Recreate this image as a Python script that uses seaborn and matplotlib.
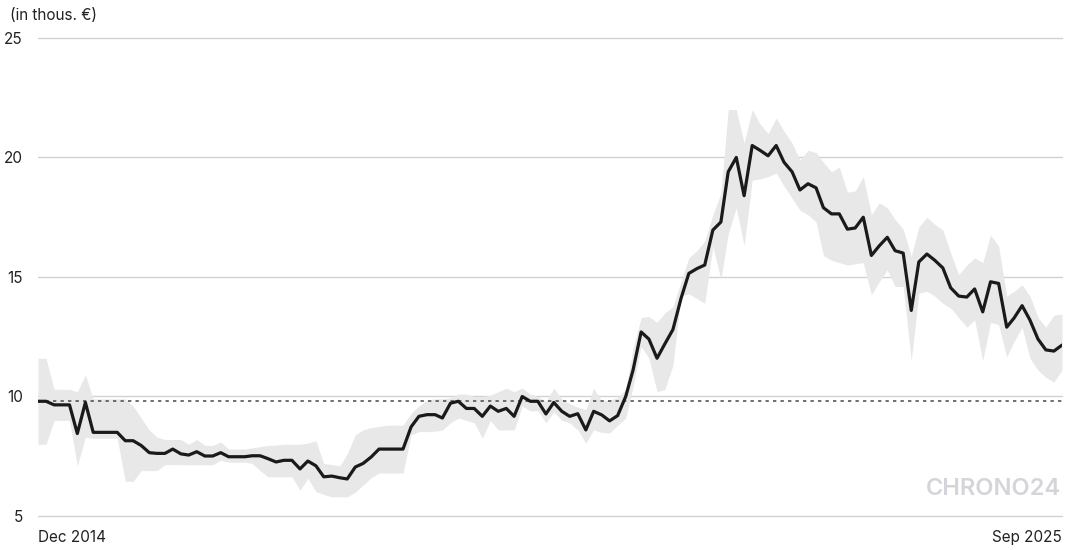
import numpy as np
import pandas as pd
import seaborn as sns
from matplotlib import pyplot as plt

# monthly median price and price band (thousand EUR), Dec 2014 - Sep 2025
price = [9.8, 9.8, 9.65, 9.65, 9.65, 8.45, 9.75, 8.5, 8.5, 8.5,
         8.5, 8.15, 8.15, 7.95, 7.65, 7.62, 7.62, 7.8, 7.6, 7.55,
         7.69, 7.51, 7.51, 7.65, 7.48, 7.48, 7.48, 7.52, 7.52, 7.4,
         7.26, 7.33, 7.33, 6.97, 7.3, 7.1, 6.64, 6.67, 6.6, 6.55,
         7.05, 7.2, 7.47, 7.8, 7.8, 7.8, 7.8, 8.73, 9.17, 9.24,
         9.24, 9.1, 9.72, 9.8, 9.5, 9.5, 9.17, 9.6, 9.38, 9.5,
         9.17, 10.0, 9.8, 9.8, 9.27, 9.75, 9.38, 9.17, 9.28, 8.6,
         9.38, 9.23, 8.98, 9.2, 10.0, 11.1, 12.7, 12.4, 11.6, 12.2,
         12.8, 14.1, 15.15, 15.35, 15.5, 16.96, 17.3, 19.4, 20.0, 18.4,
         20.5, 20.3, 20.07, 20.5, 19.8, 19.4, 18.64, 18.9, 18.73, 17.9,
         17.64, 17.64, 17.0, 17.05, 17.5, 15.9, 16.3, 16.66, 16.1, 16.0,
         13.6, 15.63, 15.96, 15.7, 15.38, 14.55, 14.2, 14.16, 14.5, 13.54,
         14.8, 14.73, 12.9, 13.28, 13.8, 13.2, 12.4, 11.95, 11.9, 12.15]

upper = [11.6, 11.6, 10.3, 10.3, 10.3, 10.2, 10.9, 9.9, 9.9, 9.9,
         9.9, 9.9, 9.6, 9.1, 8.6, 8.3, 8.2, 8.2, 8.2, 8.0,
         8.2, 7.95, 7.95, 8.1, 7.8, 7.8, 7.8, 7.85, 7.9, 7.95,
         7.97, 8.0, 8.0, 8.0, 8.05, 8.15, 7.2, 7.15, 7.1, 7.6,
         8.4, 8.6, 8.7, 8.75, 8.8, 8.8, 8.8, 9.3, 9.6, 9.85,
         9.9, 9.9, 9.95, 10.1, 10.1, 10.0, 10.0, 10.05, 10.2, 10.35,
         10.2, 10.35, 10.1, 10.0, 9.8, 10.35, 9.9, 9.7, 9.55, 9.45,
         10.35, 9.8, 9.85, 9.95, 10.3, 12.0, 13.3, 13.35, 13.1, 13.5,
         13.75, 14.8, 15.8, 16.1, 16.5, 17.6, 18.5, 22.0, 22.0, 20.6,
         22.0, 21.4, 21.0, 21.65, 21.1, 20.6, 19.9, 20.3, 20.2, 19.8,
         19.4, 19.6, 18.55, 18.6, 19.2, 17.6, 18.1, 17.9, 17.4, 17.0,
         15.85, 17.1, 17.5, 17.2, 16.97, 16.0, 15.1, 15.5, 15.8, 15.6,
         16.75, 16.3, 14.2, 14.4, 14.67, 14.2, 13.3, 12.9, 13.4, 13.45]

lower = [8.0, 8.0, 9.0, 9.0, 9.0, 7.1, 8.3, 8.25, 8.25, 8.25,
         8.25, 6.45, 6.45, 6.9, 6.9, 6.9, 7.15, 7.15, 7.15, 7.14,
         7.14, 7.14, 7.14, 7.34, 7.25, 7.25, 7.25, 7.2, 6.9, 6.64,
         6.64, 6.64, 6.64, 6.08, 6.58, 6.02, 5.9, 5.8, 5.8, 5.8,
         6.0, 6.3, 6.6, 6.8, 6.8, 6.8, 6.8, 8.4, 8.53, 8.53,
         8.55, 8.6, 8.9, 9.1, 9.0, 8.9, 8.26, 9.0, 8.6, 8.6,
         8.6, 9.6, 9.4, 9.4, 8.9, 9.35, 9.0, 8.9, 8.6, 8.05,
         8.6, 8.5, 8.47, 8.8, 9.1, 10.4, 12.1, 11.6, 10.2, 10.3,
         11.3, 14.2, 14.3, 14.1, 13.9, 16.27, 14.9, 16.8, 17.9, 16.3,
         19.05, 19.1, 19.2, 19.35, 18.8, 18.3, 17.8, 17.6, 17.3, 15.9,
         15.7, 15.6, 15.5, 15.55, 15.6, 14.25, 14.8, 15.3, 14.6, 14.6,
         11.5, 14.33, 14.4, 14.2, 13.9, 13.7, 13.3, 12.9, 13.2, 11.5,
         13.1, 13.0, 11.65, 12.3, 12.9, 11.6, 11.1, 10.8, 10.6, 11.1]

reference_price = 9.8
yticks = [5, 10, 15, 20, 25]

dates = pd.date_range('2014-12-01', periods=len(price), freq='MS')
df = pd.DataFrame({'date': dates, 'price': price, 'upper': upper, 'lower': lower})

sns.set_style('white')
plt.rcParams['font.family'] = ['Inter', 'DejaVu Sans']

fig = plt.figure(figsize=(10.84, 5.5), dpi=100)
ax = fig.add_axes([0.035, 0.0618, 0.9447, 0.8692])

ax.fill_between(df['date'], df['lower'], df['upper'], color='#e8e8e8', lw=0, zorder=1)
sns.lineplot(data=df, x='date', y='price', color='#1a1a1a', lw=2.3, ax=ax, zorder=3)
ax.axhline(reference_price, color='#555555', lw=1.2, ls=(0, (2, 2.5)), zorder=2)

ax.set_xlim(dates[0], dates[-1])
ax.set_ylim(5, 25)
ax.set_yticks(yticks)
ax.set_yticklabels([str(t) for t in yticks])
ax.yaxis.grid(True, color='#d2d2d2', lw=1)
for gl in ax.get_ygridlines():
    gl.set_clip_on(False)
ax.set_axisbelow(True)
sns.despine(left=True, bottom=True)
ax.tick_params(axis='y', length=0, pad=11, labelsize=11, labelcolor='#222222')

ax.set_xticks([dates[0], dates[-1]])
ax.set_xticklabels(['Dec 2014', 'Sep 2025'])
ax.tick_params(axis='x', length=0, pad=10, labelsize=11, labelcolor='#222222')
lbls = ax.get_xticklabels()
lbls[0].set_horizontalalignment('left')
lbls[1].set_horizontalalignment('right')

ax.set_xlabel('')
ax.set_ylabel('')

fig.text(10 / 1084, 1 - 16 / 550, '(in thous. €)', fontsize=11, color='#222222',
         ha='left', va='center')
ax.text(0.9995, 0.057, 'CHRONO24', transform=ax.transAxes, fontsize=17,
        color='#d4d4db', ha='right', va='center', fontweight='semibold')

fig.savefig('out.png', dpi=100)
